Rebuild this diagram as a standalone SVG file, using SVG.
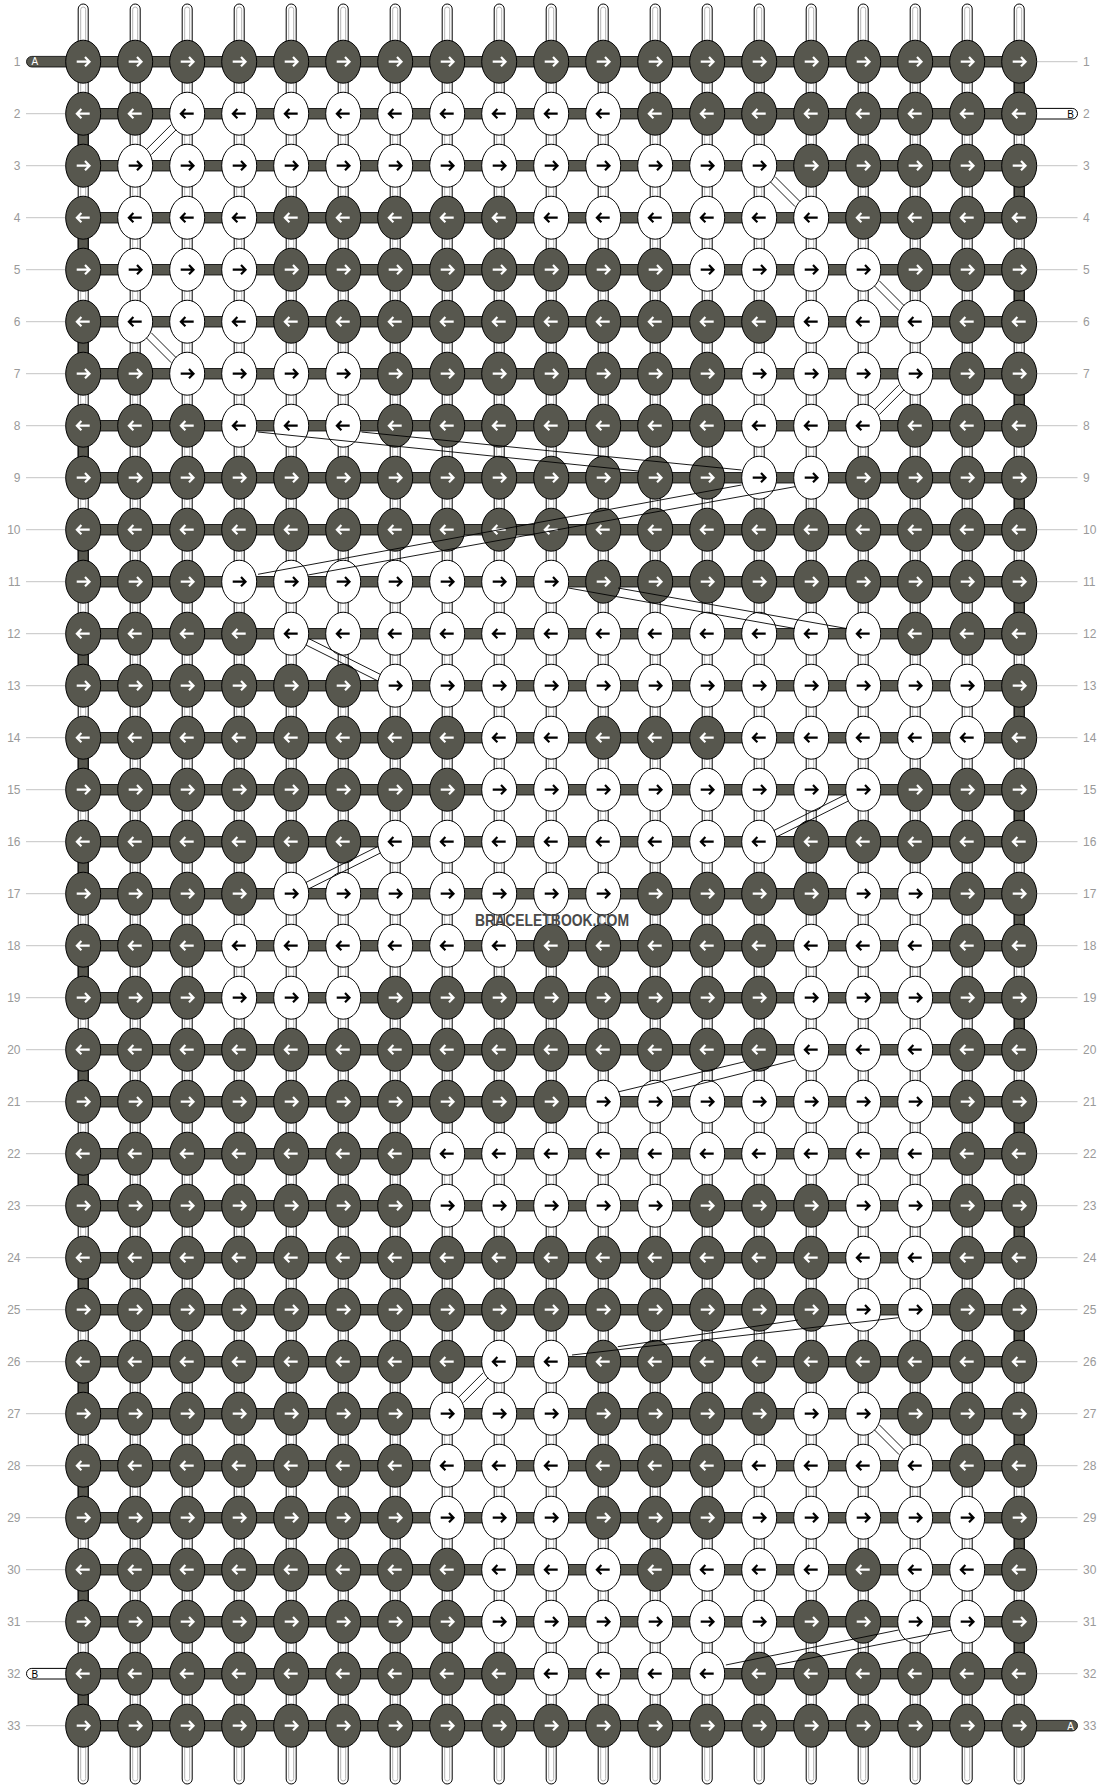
<svg xmlns="http://www.w3.org/2000/svg" width="1104" height="1788" viewBox="0 0 1104 1788">
<style>
.d{fill:#57574e;stroke:#000;stroke-width:1}
.w{fill:#fff;stroke:#000;stroke-width:1}
.aw{fill:none;stroke:#fff;stroke-width:2.2}
.ab{fill:none;stroke:#000;stroke-width:2.2}
.vt{fill:#fff;stroke:#000;stroke-width:1}
.vi{fill:none;stroke:#b4b4b4;stroke-width:1}
.es{fill:#57574e;stroke:#000;stroke-width:1}
.hb{fill:#57574e;stroke:#000;stroke-width:0.8}
.lab{font-family:"Liberation Sans",Arial,sans-serif;font-size:12px;fill:#9a9a9a}
.ll{stroke:#c4c4c4;stroke-width:1;fill:none}
.cn{stroke:#000;stroke-width:0.9;fill:none}
.tl{font-family:"Liberation Sans",Arial,sans-serif;font-size:10px}
</style>
<defs>
<g id="dR"><ellipse class="d" rx="17.5" ry="21.5"/><path class="aw" d="M-6.5 0H6M1.8-4.6L6.3 0 1.8 4.6"/></g>
<g id="dL"><ellipse class="d" rx="17.5" ry="21.5"/><path class="aw" d="M6.5 0H-6M-1.8-4.6L-6.3 0-1.8 4.6"/></g>
<g id="wR"><ellipse class="w" rx="17.5" ry="21.5"/><path class="ab" d="M-6.5 0H6M1.8-4.6L6.3 0 1.8 4.6"/></g>
<g id="wL"><ellipse class="w" rx="17.5" ry="21.5"/><path class="ab" d="M6.5 0H-6M-1.8-4.6L-6.3 0-1.8 4.6"/></g>
<g id="vth"><rect class="vt" x="-5" y="4" width="10" height="1780" rx="5"/><rect class="vi" x="-2.5" y="7" width="5" height="1774" rx="2.5"/></g>
</defs>
<g id="labels">
<path class="ll" d="M26 113.7H66M26 165.7H66M26 217.7H66M26 269.7H66M26 321.7H66M26 373.7H66M26 425.7H66M26 477.7H66M26 529.7H66M26 581.7H66M26 633.7H66M26 685.7H66M26 737.7H66M26 789.7H66M26 841.7H66M26 893.7H66M26 945.7H66M26 997.7H66M26 1049.7H66M26 1101.7H66M26 1153.7H66M26 1205.7H66M26 1257.7H66M26 1309.7H66M26 1361.7H66M26 1413.7H66M26 1465.7H66M26 1517.7H66M26 1569.7H66M26 1621.7H66M26 1725.7H66"/>
<path class="ll" d="M1037 61.7H1077.5M1037 165.7H1077.5M1037 217.7H1077.5M1037 269.7H1077.5M1037 321.7H1077.5M1037 373.7H1077.5M1037 425.7H1077.5M1037 477.7H1077.5M1037 529.7H1077.5M1037 581.7H1077.5M1037 633.7H1077.5M1037 685.7H1077.5M1037 737.7H1077.5M1037 789.7H1077.5M1037 841.7H1077.5M1037 893.7H1077.5M1037 945.7H1077.5M1037 997.7H1077.5M1037 1049.7H1077.5M1037 1101.7H1077.5M1037 1153.7H1077.5M1037 1205.7H1077.5M1037 1257.7H1077.5M1037 1309.7H1077.5M1037 1361.7H1077.5M1037 1413.7H1077.5M1037 1465.7H1077.5M1037 1517.7H1077.5M1037 1569.7H1077.5M1037 1621.7H1077.5M1037 1673.7H1077.5"/>
<g class="lab" text-anchor="end">
<text x="20.5" y="65.9">1</text><text x="20.5" y="117.9">2</text><text x="20.5" y="169.9">3</text><text x="20.5" y="221.9">4</text><text x="20.5" y="273.9">5</text><text x="20.5" y="325.9">6</text><text x="20.5" y="377.9">7</text><text x="20.5" y="429.9">8</text><text x="20.5" y="481.9">9</text><text x="20.5" y="533.9">10</text><text x="20.5" y="585.9">11</text><text x="20.5" y="637.9">12</text><text x="20.5" y="689.9">13</text><text x="20.5" y="741.9">14</text><text x="20.5" y="793.9">15</text><text x="20.5" y="845.9">16</text><text x="20.5" y="897.9">17</text><text x="20.5" y="949.9">18</text><text x="20.5" y="1001.9">19</text><text x="20.5" y="1053.9">20</text><text x="20.5" y="1105.9">21</text><text x="20.5" y="1157.9">22</text><text x="20.5" y="1209.9">23</text><text x="20.5" y="1261.9">24</text><text x="20.5" y="1313.9">25</text><text x="20.5" y="1365.9">26</text><text x="20.5" y="1417.9">27</text><text x="20.5" y="1469.9">28</text><text x="20.5" y="1521.9">29</text><text x="20.5" y="1573.9">30</text><text x="20.5" y="1625.9">31</text><text x="20.5" y="1677.9">32</text><text x="20.5" y="1729.9">33</text>
</g>
<g class="lab">
<text x="1083" y="65.9">1</text><text x="1083" y="117.9">2</text><text x="1083" y="169.9">3</text><text x="1083" y="221.9">4</text><text x="1083" y="273.9">5</text><text x="1083" y="325.9">6</text><text x="1083" y="377.9">7</text><text x="1083" y="429.9">8</text><text x="1083" y="481.9">9</text><text x="1083" y="533.9">10</text><text x="1083" y="585.9">11</text><text x="1083" y="637.9">12</text><text x="1083" y="689.9">13</text><text x="1083" y="741.9">14</text><text x="1083" y="793.9">15</text><text x="1083" y="845.9">16</text><text x="1083" y="897.9">17</text><text x="1083" y="949.9">18</text><text x="1083" y="1001.9">19</text><text x="1083" y="1053.9">20</text><text x="1083" y="1105.9">21</text><text x="1083" y="1157.9">22</text><text x="1083" y="1209.9">23</text><text x="1083" y="1261.9">24</text><text x="1083" y="1313.9">25</text><text x="1083" y="1365.9">26</text><text x="1083" y="1417.9">27</text><text x="1083" y="1469.9">28</text><text x="1083" y="1521.9">29</text><text x="1083" y="1573.9">30</text><text x="1083" y="1625.9">31</text><text x="1083" y="1677.9">32</text><text x="1083" y="1729.9">33</text>
</g>
</g>
<g id="threads">
<use href="#vth" x="83.2"/><use href="#vth" x="135.2"/><use href="#vth" x="187.2"/><use href="#vth" x="239.2"/><use href="#vth" x="291.2"/><use href="#vth" x="343.2"/><use href="#vth" x="395.2"/><use href="#vth" x="447.2"/><use href="#vth" x="499.2"/><use href="#vth" x="551.2"/><use href="#vth" x="603.2"/><use href="#vth" x="655.2"/><use href="#vth" x="707.2"/><use href="#vth" x="759.2"/><use href="#vth" x="811.2"/><use href="#vth" x="863.2"/><use href="#vth" x="915.2"/><use href="#vth" x="967.2"/><use href="#vth" x="1019.2"/>
</g>
<g id="edge-turns">
<g transform="translate(78.2 0)"><rect class="es" y="128.7" width="10" height="22"/><rect class="es" y="232.7" width="10" height="22"/><rect class="es" y="336.7" width="10" height="22"/><rect class="es" y="440.7" width="10" height="22"/><rect class="es" y="544.7" width="10" height="22"/><rect class="es" y="648.7" width="10" height="22"/><rect class="es" y="752.7" width="10" height="22"/><rect class="es" y="856.7" width="10" height="22"/><rect class="es" y="960.7" width="10" height="22"/><rect class="es" y="1064.7" width="10" height="22"/><rect class="es" y="1168.7" width="10" height="22"/><rect class="es" y="1272.7" width="10" height="22"/><rect class="es" y="1376.7" width="10" height="22"/><rect class="es" y="1480.7" width="10" height="22"/><rect class="es" y="1584.7" width="10" height="22"/><rect class="es" y="1688.7" width="10" height="22"/></g>
<g transform="translate(1014.2 0)"><rect class="es" y="76.7" width="10" height="22"/><rect class="es" y="180.7" width="10" height="22"/><rect class="es" y="284.7" width="10" height="22"/><rect class="es" y="388.7" width="10" height="22"/><rect class="es" y="492.7" width="10" height="22"/><rect class="es" y="596.7" width="10" height="22"/><rect class="es" y="700.7" width="10" height="22"/><rect class="es" y="804.7" width="10" height="22"/><rect class="es" y="908.7" width="10" height="22"/><rect class="es" y="1012.7" width="10" height="22"/><rect class="es" y="1116.7" width="10" height="22"/><rect class="es" y="1220.7" width="10" height="22"/><rect class="es" y="1324.7" width="10" height="22"/><rect class="es" y="1428.7" width="10" height="22"/><rect class="es" y="1532.7" width="10" height="22"/><rect class="es" y="1636.7" width="10" height="22"/></g>
</g>
<g id="thread-ends">
<rect class="hb" x="26.5" y="56.4" width="60" height="10.6" rx="5.3"/>
<text class="tl" x="31.5" y="65.4" fill="#fff">A</text>
<rect class="w" x="1015" y="108.4" width="62.5" height="10.6" rx="5.3"/>
<text class="tl" x="1074" y="117.5" text-anchor="end" fill="#000">B</text>
<rect class="w" x="26.5" y="1668.4" width="60" height="10.6" rx="5.3"/>
<text class="tl" x="31.5" y="1677.5" fill="#000">B</text>
<rect class="hb" x="1015" y="1720.4" width="62.5" height="10.6" rx="5.3"/>
<text class="tl" x="1074" y="1729.5" text-anchor="end" fill="#fff">A</text>
</g>
<g id="row1" transform="translate(83.2 61.7)"><rect class="hb" y="-5.3" width="936" height="10.6"/><use href="#dR" x="0"/><use href="#dR" x="52"/><use href="#dR" x="104"/><use href="#dR" x="156"/><use href="#dR" x="208"/><use href="#dR" x="260"/><use href="#dR" x="312"/><use href="#dR" x="364"/><use href="#dR" x="416"/><use href="#dR" x="468"/><use href="#dR" x="520"/><use href="#dR" x="572"/><use href="#dR" x="624"/><use href="#dR" x="676"/><use href="#dR" x="728"/><use href="#dR" x="780"/><use href="#dR" x="832"/><use href="#dR" x="884"/><use href="#dR" x="936"/></g>
<g id="row2" transform="translate(83.2 113.7)"><rect class="hb" y="-5.3" width="936" height="10.6"/><use href="#dL" x="0"/><use href="#dL" x="52"/><use href="#wL" x="104"/><use href="#wL" x="156"/><use href="#wL" x="208"/><use href="#wL" x="260"/><use href="#wL" x="312"/><use href="#wL" x="364"/><use href="#wL" x="416"/><use href="#wL" x="468"/><use href="#wL" x="520"/><use href="#dL" x="572"/><use href="#dL" x="624"/><use href="#dL" x="676"/><use href="#dL" x="728"/><use href="#dL" x="780"/><use href="#dL" x="832"/><use href="#dL" x="884"/><use href="#dL" x="936"/></g>
<g id="row3" transform="translate(83.2 165.7)"><rect class="hb" y="-5.3" width="936" height="10.6"/><use href="#dR" x="0"/><use href="#wR" x="52"/><use href="#wR" x="104"/><use href="#wR" x="156"/><use href="#wR" x="208"/><use href="#wR" x="260"/><use href="#wR" x="312"/><use href="#wR" x="364"/><use href="#wR" x="416"/><use href="#wR" x="468"/><use href="#wR" x="520"/><use href="#wR" x="572"/><use href="#wR" x="624"/><use href="#wR" x="676"/><use href="#dR" x="728"/><use href="#dR" x="780"/><use href="#dR" x="832"/><use href="#dR" x="884"/><use href="#dR" x="936"/></g>
<g id="row4" transform="translate(83.2 217.7)"><rect class="hb" y="-5.3" width="936" height="10.6"/><use href="#dL" x="0"/><use href="#wL" x="52"/><use href="#wL" x="104"/><use href="#wL" x="156"/><use href="#dL" x="208"/><use href="#dL" x="260"/><use href="#dL" x="312"/><use href="#dL" x="364"/><use href="#dL" x="416"/><use href="#wL" x="468"/><use href="#wL" x="520"/><use href="#wL" x="572"/><use href="#wL" x="624"/><use href="#wL" x="676"/><use href="#wL" x="728"/><use href="#dL" x="780"/><use href="#dL" x="832"/><use href="#dL" x="884"/><use href="#dL" x="936"/></g>
<g id="row5" transform="translate(83.2 269.7)"><rect class="hb" y="-5.3" width="936" height="10.6"/><use href="#dR" x="0"/><use href="#wR" x="52"/><use href="#wR" x="104"/><use href="#wR" x="156"/><use href="#dR" x="208"/><use href="#dR" x="260"/><use href="#dR" x="312"/><use href="#dR" x="364"/><use href="#dR" x="416"/><use href="#dR" x="468"/><use href="#dR" x="520"/><use href="#dR" x="572"/><use href="#wR" x="624"/><use href="#wR" x="676"/><use href="#wR" x="728"/><use href="#wR" x="780"/><use href="#dR" x="832"/><use href="#dR" x="884"/><use href="#dR" x="936"/></g>
<g id="row6" transform="translate(83.2 321.7)"><rect class="hb" y="-5.3" width="936" height="10.6"/><use href="#dL" x="0"/><use href="#wL" x="52"/><use href="#wL" x="104"/><use href="#wL" x="156"/><use href="#dL" x="208"/><use href="#dL" x="260"/><use href="#dL" x="312"/><use href="#dL" x="364"/><use href="#dL" x="416"/><use href="#dL" x="468"/><use href="#dL" x="520"/><use href="#dL" x="572"/><use href="#dL" x="624"/><use href="#dL" x="676"/><use href="#wL" x="728"/><use href="#wL" x="780"/><use href="#wL" x="832"/><use href="#dL" x="884"/><use href="#dL" x="936"/></g>
<g id="row7" transform="translate(83.2 373.7)"><rect class="hb" y="-5.3" width="936" height="10.6"/><use href="#dR" x="0"/><use href="#dR" x="52"/><use href="#wR" x="104"/><use href="#wR" x="156"/><use href="#wR" x="208"/><use href="#wR" x="260"/><use href="#dR" x="312"/><use href="#dR" x="364"/><use href="#dR" x="416"/><use href="#dR" x="468"/><use href="#dR" x="520"/><use href="#dR" x="572"/><use href="#dR" x="624"/><use href="#wR" x="676"/><use href="#wR" x="728"/><use href="#wR" x="780"/><use href="#wR" x="832"/><use href="#dR" x="884"/><use href="#dR" x="936"/></g>
<g id="row8" transform="translate(83.2 425.7)"><rect class="hb" y="-5.3" width="936" height="10.6"/><use href="#dL" x="0"/><use href="#dL" x="52"/><use href="#dL" x="104"/><use href="#wL" x="156"/><use href="#wL" x="208"/><use href="#wL" x="260"/><use href="#dL" x="312"/><use href="#dL" x="364"/><use href="#dL" x="416"/><use href="#dL" x="468"/><use href="#dL" x="520"/><use href="#dL" x="572"/><use href="#dL" x="624"/><use href="#wL" x="676"/><use href="#wL" x="728"/><use href="#wL" x="780"/><use href="#dL" x="832"/><use href="#dL" x="884"/><use href="#dL" x="936"/></g>
<g id="row9" transform="translate(83.2 477.7)"><rect class="hb" y="-5.3" width="936" height="10.6"/><use href="#dR" x="0"/><use href="#dR" x="52"/><use href="#dR" x="104"/><use href="#dR" x="156"/><use href="#dR" x="208"/><use href="#dR" x="260"/><use href="#dR" x="312"/><use href="#dR" x="364"/><use href="#dR" x="416"/><use href="#dR" x="468"/><use href="#dR" x="520"/><use href="#dR" x="572"/><use href="#dR" x="624"/><use href="#wR" x="676"/><use href="#wR" x="728"/><use href="#dR" x="780"/><use href="#dR" x="832"/><use href="#dR" x="884"/><use href="#dR" x="936"/></g>
<g id="row10" transform="translate(83.2 529.7)"><rect class="hb" y="-5.3" width="936" height="10.6"/><use href="#dL" x="0"/><use href="#dL" x="52"/><use href="#dL" x="104"/><use href="#dL" x="156"/><use href="#dL" x="208"/><use href="#dL" x="260"/><use href="#dL" x="312"/><use href="#dL" x="364"/><use href="#dL" x="416"/><use href="#dL" x="468"/><use href="#dL" x="520"/><use href="#dL" x="572"/><use href="#dL" x="624"/><use href="#dL" x="676"/><use href="#dL" x="728"/><use href="#dL" x="780"/><use href="#dL" x="832"/><use href="#dL" x="884"/><use href="#dL" x="936"/></g>
<g id="row11" transform="translate(83.2 581.7)"><rect class="hb" y="-5.3" width="936" height="10.6"/><use href="#dR" x="0"/><use href="#dR" x="52"/><use href="#dR" x="104"/><use href="#wR" x="156"/><use href="#wR" x="208"/><use href="#wR" x="260"/><use href="#wR" x="312"/><use href="#wR" x="364"/><use href="#wR" x="416"/><use href="#wR" x="468"/><use href="#dR" x="520"/><use href="#dR" x="572"/><use href="#dR" x="624"/><use href="#dR" x="676"/><use href="#dR" x="728"/><use href="#dR" x="780"/><use href="#dR" x="832"/><use href="#dR" x="884"/><use href="#dR" x="936"/></g>
<g id="row12" transform="translate(83.2 633.7)"><rect class="hb" y="-5.3" width="936" height="10.6"/><use href="#dL" x="0"/><use href="#dL" x="52"/><use href="#dL" x="104"/><use href="#dL" x="156"/><use href="#wL" x="208"/><use href="#wL" x="260"/><use href="#wL" x="312"/><use href="#wL" x="364"/><use href="#wL" x="416"/><use href="#wL" x="468"/><use href="#wL" x="520"/><use href="#wL" x="572"/><use href="#wL" x="624"/><use href="#wL" x="676"/><use href="#wL" x="728"/><use href="#wL" x="780"/><use href="#dL" x="832"/><use href="#dL" x="884"/><use href="#dL" x="936"/></g>
<g id="row13" transform="translate(83.2 685.7)"><rect class="hb" y="-5.3" width="936" height="10.6"/><use href="#dR" x="0"/><use href="#dR" x="52"/><use href="#dR" x="104"/><use href="#dR" x="156"/><use href="#dR" x="208"/><use href="#dR" x="260"/><use href="#wR" x="312"/><use href="#wR" x="364"/><use href="#wR" x="416"/><use href="#wR" x="468"/><use href="#wR" x="520"/><use href="#wR" x="572"/><use href="#wR" x="624"/><use href="#wR" x="676"/><use href="#wR" x="728"/><use href="#wR" x="780"/><use href="#wR" x="832"/><use href="#wR" x="884"/><use href="#dR" x="936"/></g>
<g id="row14" transform="translate(83.2 737.7)"><rect class="hb" y="-5.3" width="936" height="10.6"/><use href="#dL" x="0"/><use href="#dL" x="52"/><use href="#dL" x="104"/><use href="#dL" x="156"/><use href="#dL" x="208"/><use href="#dL" x="260"/><use href="#dL" x="312"/><use href="#dL" x="364"/><use href="#wL" x="416"/><use href="#wL" x="468"/><use href="#dL" x="520"/><use href="#dL" x="572"/><use href="#dL" x="624"/><use href="#wL" x="676"/><use href="#wL" x="728"/><use href="#wL" x="780"/><use href="#wL" x="832"/><use href="#wL" x="884"/><use href="#dL" x="936"/></g>
<g id="row15" transform="translate(83.2 789.7)"><rect class="hb" y="-5.3" width="936" height="10.6"/><use href="#dR" x="0"/><use href="#dR" x="52"/><use href="#dR" x="104"/><use href="#dR" x="156"/><use href="#dR" x="208"/><use href="#dR" x="260"/><use href="#dR" x="312"/><use href="#dR" x="364"/><use href="#wR" x="416"/><use href="#wR" x="468"/><use href="#wR" x="520"/><use href="#wR" x="572"/><use href="#wR" x="624"/><use href="#wR" x="676"/><use href="#wR" x="728"/><use href="#wR" x="780"/><use href="#dR" x="832"/><use href="#dR" x="884"/><use href="#dR" x="936"/></g>
<g id="row16" transform="translate(83.2 841.7)"><rect class="hb" y="-5.3" width="936" height="10.6"/><use href="#dL" x="0"/><use href="#dL" x="52"/><use href="#dL" x="104"/><use href="#dL" x="156"/><use href="#dL" x="208"/><use href="#dL" x="260"/><use href="#wL" x="312"/><use href="#wL" x="364"/><use href="#wL" x="416"/><use href="#wL" x="468"/><use href="#wL" x="520"/><use href="#wL" x="572"/><use href="#wL" x="624"/><use href="#wL" x="676"/><use href="#dL" x="728"/><use href="#dL" x="780"/><use href="#dL" x="832"/><use href="#dL" x="884"/><use href="#dL" x="936"/></g>
<g id="row17" transform="translate(83.2 893.7)"><rect class="hb" y="-5.3" width="936" height="10.6"/><use href="#dR" x="0"/><use href="#dR" x="52"/><use href="#dR" x="104"/><use href="#dR" x="156"/><use href="#wR" x="208"/><use href="#wR" x="260"/><use href="#wR" x="312"/><use href="#wR" x="364"/><use href="#wR" x="416"/><use href="#wR" x="468"/><use href="#wR" x="520"/><use href="#dR" x="572"/><use href="#dR" x="624"/><use href="#dR" x="676"/><use href="#dR" x="728"/><use href="#wR" x="780"/><use href="#wR" x="832"/><use href="#dR" x="884"/><use href="#dR" x="936"/></g>
<g id="row18" transform="translate(83.2 945.7)"><rect class="hb" y="-5.3" width="936" height="10.6"/><use href="#dL" x="0"/><use href="#dL" x="52"/><use href="#dL" x="104"/><use href="#wL" x="156"/><use href="#wL" x="208"/><use href="#wL" x="260"/><use href="#wL" x="312"/><use href="#wL" x="364"/><use href="#wL" x="416"/><use href="#dL" x="468"/><use href="#dL" x="520"/><use href="#dL" x="572"/><use href="#dL" x="624"/><use href="#dL" x="676"/><use href="#wL" x="728"/><use href="#wL" x="780"/><use href="#wL" x="832"/><use href="#dL" x="884"/><use href="#dL" x="936"/></g>
<g id="row19" transform="translate(83.2 997.7)"><rect class="hb" y="-5.3" width="936" height="10.6"/><use href="#dR" x="0"/><use href="#dR" x="52"/><use href="#dR" x="104"/><use href="#wR" x="156"/><use href="#wR" x="208"/><use href="#wR" x="260"/><use href="#dR" x="312"/><use href="#dR" x="364"/><use href="#dR" x="416"/><use href="#dR" x="468"/><use href="#dR" x="520"/><use href="#dR" x="572"/><use href="#dR" x="624"/><use href="#dR" x="676"/><use href="#wR" x="728"/><use href="#wR" x="780"/><use href="#wR" x="832"/><use href="#dR" x="884"/><use href="#dR" x="936"/></g>
<g id="row20" transform="translate(83.2 1049.7)"><rect class="hb" y="-5.3" width="936" height="10.6"/><use href="#dL" x="0"/><use href="#dL" x="52"/><use href="#dL" x="104"/><use href="#dL" x="156"/><use href="#dL" x="208"/><use href="#dL" x="260"/><use href="#dL" x="312"/><use href="#dL" x="364"/><use href="#dL" x="416"/><use href="#dL" x="468"/><use href="#dL" x="520"/><use href="#dL" x="572"/><use href="#dL" x="624"/><use href="#dL" x="676"/><use href="#wL" x="728"/><use href="#wL" x="780"/><use href="#wL" x="832"/><use href="#dL" x="884"/><use href="#dL" x="936"/></g>
<g id="row21" transform="translate(83.2 1101.7)"><rect class="hb" y="-5.3" width="936" height="10.6"/><use href="#dR" x="0"/><use href="#dR" x="52"/><use href="#dR" x="104"/><use href="#dR" x="156"/><use href="#dR" x="208"/><use href="#dR" x="260"/><use href="#dR" x="312"/><use href="#dR" x="364"/><use href="#dR" x="416"/><use href="#dR" x="468"/><use href="#wR" x="520"/><use href="#wR" x="572"/><use href="#wR" x="624"/><use href="#wR" x="676"/><use href="#wR" x="728"/><use href="#wR" x="780"/><use href="#wR" x="832"/><use href="#dR" x="884"/><use href="#dR" x="936"/></g>
<g id="row22" transform="translate(83.2 1153.7)"><rect class="hb" y="-5.3" width="936" height="10.6"/><use href="#dL" x="0"/><use href="#dL" x="52"/><use href="#dL" x="104"/><use href="#dL" x="156"/><use href="#dL" x="208"/><use href="#dL" x="260"/><use href="#dL" x="312"/><use href="#wL" x="364"/><use href="#wL" x="416"/><use href="#wL" x="468"/><use href="#wL" x="520"/><use href="#wL" x="572"/><use href="#wL" x="624"/><use href="#wL" x="676"/><use href="#wL" x="728"/><use href="#wL" x="780"/><use href="#wL" x="832"/><use href="#dL" x="884"/><use href="#dL" x="936"/></g>
<g id="row23" transform="translate(83.2 1205.7)"><rect class="hb" y="-5.3" width="936" height="10.6"/><use href="#dR" x="0"/><use href="#dR" x="52"/><use href="#dR" x="104"/><use href="#dR" x="156"/><use href="#dR" x="208"/><use href="#dR" x="260"/><use href="#dR" x="312"/><use href="#wR" x="364"/><use href="#wR" x="416"/><use href="#wR" x="468"/><use href="#wR" x="520"/><use href="#wR" x="572"/><use href="#dR" x="624"/><use href="#dR" x="676"/><use href="#dR" x="728"/><use href="#wR" x="780"/><use href="#wR" x="832"/><use href="#dR" x="884"/><use href="#dR" x="936"/></g>
<g id="row24" transform="translate(83.2 1257.7)"><rect class="hb" y="-5.3" width="936" height="10.6"/><use href="#dL" x="0"/><use href="#dL" x="52"/><use href="#dL" x="104"/><use href="#dL" x="156"/><use href="#dL" x="208"/><use href="#dL" x="260"/><use href="#dL" x="312"/><use href="#dL" x="364"/><use href="#dL" x="416"/><use href="#dL" x="468"/><use href="#dL" x="520"/><use href="#dL" x="572"/><use href="#dL" x="624"/><use href="#dL" x="676"/><use href="#dL" x="728"/><use href="#wL" x="780"/><use href="#wL" x="832"/><use href="#dL" x="884"/><use href="#dL" x="936"/></g>
<g id="row25" transform="translate(83.2 1309.7)"><rect class="hb" y="-5.3" width="936" height="10.6"/><use href="#dR" x="0"/><use href="#dR" x="52"/><use href="#dR" x="104"/><use href="#dR" x="156"/><use href="#dR" x="208"/><use href="#dR" x="260"/><use href="#dR" x="312"/><use href="#dR" x="364"/><use href="#dR" x="416"/><use href="#dR" x="468"/><use href="#dR" x="520"/><use href="#dR" x="572"/><use href="#dR" x="624"/><use href="#dR" x="676"/><use href="#dR" x="728"/><use href="#wR" x="780"/><use href="#wR" x="832"/><use href="#dR" x="884"/><use href="#dR" x="936"/></g>
<g id="row26" transform="translate(83.2 1361.7)"><rect class="hb" y="-5.3" width="936" height="10.6"/><use href="#dL" x="0"/><use href="#dL" x="52"/><use href="#dL" x="104"/><use href="#dL" x="156"/><use href="#dL" x="208"/><use href="#dL" x="260"/><use href="#dL" x="312"/><use href="#dL" x="364"/><use href="#wL" x="416"/><use href="#wL" x="468"/><use href="#dL" x="520"/><use href="#dL" x="572"/><use href="#dL" x="624"/><use href="#dL" x="676"/><use href="#dL" x="728"/><use href="#dL" x="780"/><use href="#dL" x="832"/><use href="#dL" x="884"/><use href="#dL" x="936"/></g>
<g id="row27" transform="translate(83.2 1413.7)"><rect class="hb" y="-5.3" width="936" height="10.6"/><use href="#dR" x="0"/><use href="#dR" x="52"/><use href="#dR" x="104"/><use href="#dR" x="156"/><use href="#dR" x="208"/><use href="#dR" x="260"/><use href="#dR" x="312"/><use href="#wR" x="364"/><use href="#wR" x="416"/><use href="#wR" x="468"/><use href="#dR" x="520"/><use href="#dR" x="572"/><use href="#dR" x="624"/><use href="#dR" x="676"/><use href="#wR" x="728"/><use href="#wR" x="780"/><use href="#dR" x="832"/><use href="#dR" x="884"/><use href="#dR" x="936"/></g>
<g id="row28" transform="translate(83.2 1465.7)"><rect class="hb" y="-5.3" width="936" height="10.6"/><use href="#dL" x="0"/><use href="#dL" x="52"/><use href="#dL" x="104"/><use href="#dL" x="156"/><use href="#dL" x="208"/><use href="#dL" x="260"/><use href="#dL" x="312"/><use href="#wL" x="364"/><use href="#wL" x="416"/><use href="#wL" x="468"/><use href="#dL" x="520"/><use href="#dL" x="572"/><use href="#dL" x="624"/><use href="#wL" x="676"/><use href="#wL" x="728"/><use href="#wL" x="780"/><use href="#wL" x="832"/><use href="#dL" x="884"/><use href="#dL" x="936"/></g>
<g id="row29" transform="translate(83.2 1517.7)"><rect class="hb" y="-5.3" width="936" height="10.6"/><use href="#dR" x="0"/><use href="#dR" x="52"/><use href="#dR" x="104"/><use href="#dR" x="156"/><use href="#dR" x="208"/><use href="#dR" x="260"/><use href="#dR" x="312"/><use href="#wR" x="364"/><use href="#wR" x="416"/><use href="#wR" x="468"/><use href="#dR" x="520"/><use href="#dR" x="572"/><use href="#dR" x="624"/><use href="#wR" x="676"/><use href="#wR" x="728"/><use href="#wR" x="780"/><use href="#wR" x="832"/><use href="#wR" x="884"/><use href="#dR" x="936"/></g>
<g id="row30" transform="translate(83.2 1569.7)"><rect class="hb" y="-5.3" width="936" height="10.6"/><use href="#dL" x="0"/><use href="#dL" x="52"/><use href="#dL" x="104"/><use href="#dL" x="156"/><use href="#dL" x="208"/><use href="#dL" x="260"/><use href="#dL" x="312"/><use href="#dL" x="364"/><use href="#wL" x="416"/><use href="#wL" x="468"/><use href="#wL" x="520"/><use href="#dL" x="572"/><use href="#wL" x="624"/><use href="#wL" x="676"/><use href="#wL" x="728"/><use href="#dL" x="780"/><use href="#wL" x="832"/><use href="#wL" x="884"/><use href="#dL" x="936"/></g>
<g id="row31" transform="translate(83.2 1621.7)"><rect class="hb" y="-5.3" width="936" height="10.6"/><use href="#dR" x="0"/><use href="#dR" x="52"/><use href="#dR" x="104"/><use href="#dR" x="156"/><use href="#dR" x="208"/><use href="#dR" x="260"/><use href="#dR" x="312"/><use href="#dR" x="364"/><use href="#wR" x="416"/><use href="#wR" x="468"/><use href="#wR" x="520"/><use href="#wR" x="572"/><use href="#wR" x="624"/><use href="#wR" x="676"/><use href="#dR" x="728"/><use href="#dR" x="780"/><use href="#wR" x="832"/><use href="#wR" x="884"/><use href="#dR" x="936"/></g>
<g id="row32" transform="translate(83.2 1673.7)"><rect class="hb" y="-5.3" width="936" height="10.6"/><use href="#dL" x="0"/><use href="#dL" x="52"/><use href="#dL" x="104"/><use href="#dL" x="156"/><use href="#dL" x="208"/><use href="#dL" x="260"/><use href="#dL" x="312"/><use href="#dL" x="364"/><use href="#dL" x="416"/><use href="#wL" x="468"/><use href="#wL" x="520"/><use href="#wL" x="572"/><use href="#wL" x="624"/><use href="#dL" x="676"/><use href="#dL" x="728"/><use href="#dL" x="780"/><use href="#dL" x="832"/><use href="#dL" x="884"/><use href="#dL" x="936"/></g>
<g id="row33" transform="translate(83.2 1725.7)"><rect class="hb" y="-5.3" width="936" height="10.6"/><use href="#dR" x="0"/><use href="#dR" x="52"/><use href="#dR" x="104"/><use href="#dR" x="156"/><use href="#dR" x="208"/><use href="#dR" x="260"/><use href="#dR" x="312"/><use href="#dR" x="364"/><use href="#dR" x="416"/><use href="#dR" x="468"/><use href="#dR" x="520"/><use href="#dR" x="572"/><use href="#dR" x="624"/><use href="#dR" x="676"/><use href="#dR" x="728"/><use href="#dR" x="780"/><use href="#dR" x="832"/><use href="#dR" x="884"/><use href="#dR" x="936"/></g>
<g id="connectors" class="cn">
<path d="M171.1 124.8L146.3 149.6M176.1 129.8L151.3 154.6"/>
<path d="M775.3 176.8L800.1 201.6M770.3 181.8L795.1 206.6"/>
<path d="M879.3 280.8L904.1 305.6M874.3 285.8L899.1 310.6"/>
<path d="M151.3 332.8L176.1 357.6M146.3 337.8L171.1 362.6"/>
<path d="M899.1 384.8L874.3 409.6M904.1 389.8L879.3 414.6"/>
<path d="M258 432L638 471M361.5 432L741.5 470"/>
<path d="M741.5 485L258 574.3M795 486.7L308 575"/>
<path d="M568.5 588L794.5 628.5M618 588L846.5 628.5"/>
<path d="M309 638.7L380.6 674.5M305.8 644.9L377.4 680.7"/>
<path d="M845.4 794.7L773.8 830.5M848.6 800.9L777 836.7"/>
<path d="M377.4 846.7L305.8 882.5M380.6 852.9L309 888.7"/>
<path d="M744.7 1061.7L619 1091.7M795 1060L672.4 1091"/>
<path d="M798 1320L617.8 1346.7M898.5 1317.7L572 1355"/>
<path d="M483.1 1372.8L458.3 1397.6M488.1 1377.8L463.3 1402.6"/>
<path d="M879.3 1424.8L904.1 1449.6M874.3 1429.8L899.1 1454.6"/>
<path d="M898.5 1630L725.8 1665M952 1630L776 1665"/>
</g>
<text id="watermark" x="475" y="925.5" font-family="Liberation Sans, Arial, sans-serif" font-weight="bold" font-size="17" fill="#4a4a4a" textLength="154" lengthAdjust="spacingAndGlyphs">BRACELETBOOK.COM</text>
</svg>
